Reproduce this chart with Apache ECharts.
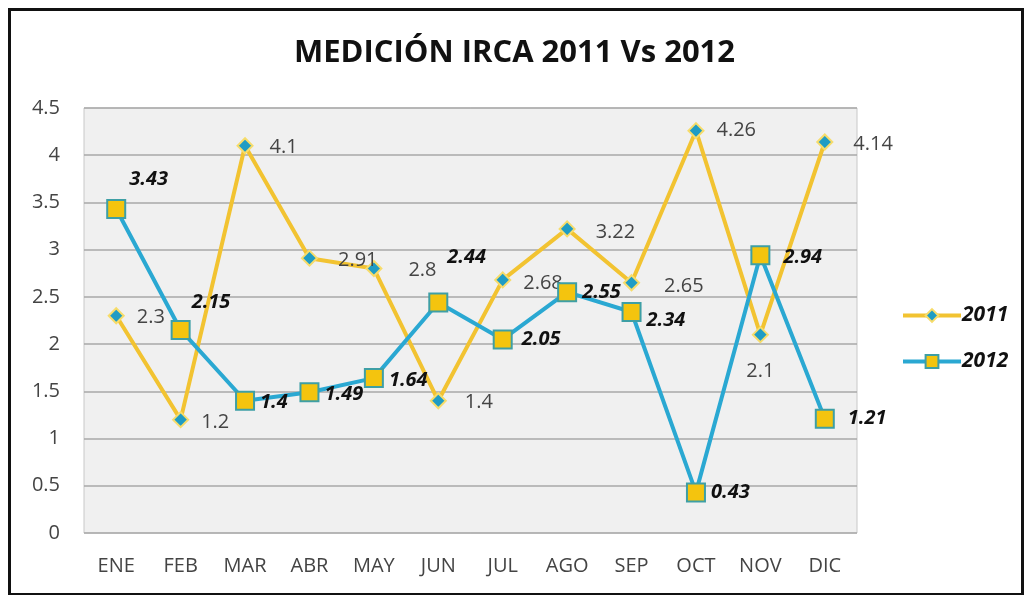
<!DOCTYPE html>
<html>
<head>
<meta charset="utf-8">
<script src="https://cdn.jsdelivr.net/npm/echarts@6/dist/echarts.min.js"></script>
<style>
  html, body { margin: 0; padding: 0; background: #fff; }
  #frame { position: absolute; left: 8px; top: 8px; width: 1010px; height: 582px; border: 3px solid #111; border-bottom-width: 2px; }
  #chart { width: 1029px; height: 597px; }
</style>
</head>
<body>
<div id="frame"></div>
<div id="chart"></div>
<script>
const months = ['ENE', 'FEB', 'MAR', 'ABR', 'MAY', 'JUN', 'JUL', 'AGO', 'SEP', 'OCT', 'NOV', 'DIC']
const values2011 = [2.3, 1.2, 4.1, 2.91, 2.8, 1.4, 2.68, 3.22, 2.65, 4.26, 2.1, 4.14]
const values2012 = [3.43, 2.15, 1.4, 1.49, 1.64, 2.44, 2.05, 2.55, 2.34, 0.43, 2.94, 1.21]

// label nudges (px) per month, [dx, dy]
const nudge2011 = [[0, 2], [0, 3], [4, 2], [8, 2], [14, 2], [6, 2], [0, 3], [8, 3], [12, 4], [0, 0], [0, 6], [8, 2]]
const nudge2012 = [[-2, -30], [-4, -28], [0, 2], [0, 2], [0, 2], [-6, -45], [4, 0], [0, 0], [0, 8], [0, 0], [8, 2], [8, 0]]

const font = '"Open Sans", "Noto Sans", sans-serif'

const chart = echarts.init(document.getElementById('chart'))
chart.setOption({
  animation: false,
  textStyle: { fontFamily: font },
  title: {
    text: 'MEDICIÓN IRCA 2011 Vs 2012',
    left: 'center',
    top: 33,
    textStyle: { fontSize: 31, fontWeight: 'bold', color: '#111', fontFamily: font }
  },
  legend: {
    orient: 'vertical',
    left: 896,
    top: 300,
    itemGap: 25,
    itemWidth: 58,
    itemHeight: 16,
    textStyle: { fontSize: 21, fontWeight: 'bold', fontStyle: 'italic', color: '#111', padding: [0, 0, 0, -4] },
    lineStyle: { width: 4 },
    data: ['2011', '2012']
  },
  grid: {
    left: 84,
    top: 108,
    width: 773,
    height: 425,
    show: true,
    backgroundColor: '#f0f0f0',
    borderColor: '#c8c8c8',
    borderWidth: 1
  },
  xAxis: {
    type: 'category',
    data: months,
    boundaryGap: true,
    axisLine: { show: false },
    axisTick: { show: false },
    axisLabel: { color: '#444', fontSize: 20, margin: 23 }
  },
  yAxis: {
    type: 'value',
    min: 0,
    max: 4.5,
    interval: 0.5,
    axisLine: { show: false },
    axisTick: { show: false },
    axisLabel: { color: '#444', fontSize: 20, margin: 24 },
    splitLine: { lineStyle: { color: '#a8a8a8', width: 1.5 } }
  },
  series: [
    {
      name: '2011',
      type: 'line',
      data: values2011.map((v, i) => ({
        value: v,
        label: i === 10 ? { position: 'bottom', offset: nudge2011[i] } : { offset: nudge2011[i] }
      })),
      symbol: 'diamond',
      symbolSize: 15,
      lineStyle: { color: '#f2c331', width: 4 },
      itemStyle: { color: '#1f9cc4', borderColor: '#f7dc6a', borderWidth: 2 },
      label: {
        show: true,
        position: 'right',
        distance: 12,
        color: '#444',
        fontSize: 20
      },
      z: 2
    },
    {
      name: '2012',
      type: 'line',
      data: values2012.map((v, i) => ({
        value: v,
        label: { offset: nudge2012[i] }
      })),
      symbol: 'rect',
      symbolSize: 18,
      lineStyle: { color: '#2aa8d2', width: 4 },
      itemStyle: { color: '#f4c40e', borderColor: '#3e9fa5', borderWidth: 2 },
      label: {
        show: true,
        position: 'right',
        distance: 5,
        color: '#111',
        fontSize: 20,
        fontWeight: 'bold',
        fontStyle: 'italic'
      },
      z: 3
    }
  ]
})
</script>
</body>
</html>
